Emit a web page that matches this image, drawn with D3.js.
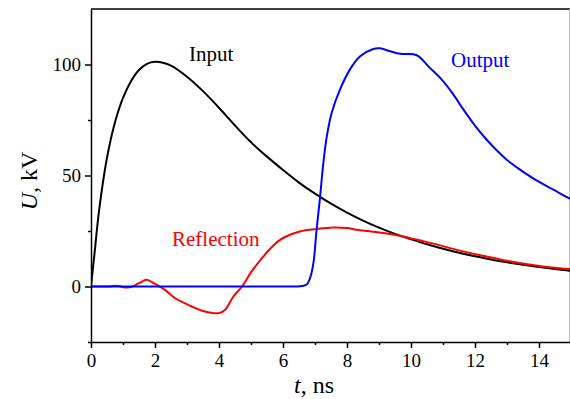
<!DOCTYPE html>
<html><head><meta charset="utf-8">
<script src="https://cdn.jsdelivr.net/npm/d3@7"></script>
<style>body{margin:0;background:#fff}svg{display:block}</style>
</head><body>
<svg id="c" width="570" height="399"></svg>
<script>
// Input pulse (black)
const inputT = [0,0.125,0.25,0.5,0.75,1.0,1.25,1.5,1.75,2.0,2.25,2.5,3.0,3.5,4.0,4.5,5.0,5.5,6.0,6.5,7.0,7.5,8.0,8.5,9.0,9.5,10.0,10.5,11.0,11.5,12.0,12.5,13.0,13.5,14.0,14.5,15.0];
const inputV = [0,17,34,58,74,85,92.5,97.5,100.3,101.2,100.8,99.5,94.5,88,80.5,72.5,65,58.5,52.5,46.8,41.8,37.3,33.3,29.7,26.5,23.7,21.3,19,17,15.2,13.6,12.2,10.9,9.8,8.8,7.9,7.1];
// Output pulse (blue)
const outputT = [0,1,2,3,4,5,6,6.4,6.6,6.75,6.85,6.95,7.05,7.16,7.26,7.37,7.52,7.78,8.09,8.41,8.82,9.03,9.34,9.66,10.07,10.23,10.59,10.96,11.3,11.64,12.0,12.36,12.7,13.0,13.35,13.72,14.1,14.45,14.75,15.0];
const outputV = [0,0,0,0,0,0,0,0,0.2,1,4,10.5,25.6,40.6,55.6,67.7,78.2,88.7,97.7,103.7,107,107.3,106,104.8,104.6,103.8,98.5,93.2,87,79.7,72.5,66.2,61,57,53.2,49.6,46.3,43.6,41.2,39.3];
// Reflection (red)
const reflT = [0,0.5,0.8,1.1,1.3,1.5,1.74,1.9,2.05,2.31,2.63,2.9,3.15,3.56,3.85,4.0,4.19,4.45,4.72,5.02,5.3,5.6,5.91,6.2,6.53,7.05,7.57,8.0,8.3,8.7,9.14,9.6,9.97,10.5,11.0,11.22,11.7,12.2,12.78,13.3,13.8,14.4,15.0];
const reflV = [0,0,0.3,-0.5,0,1.5,3,2,0.8,-1.5,-5.3,-7.3,-9,-11.3,-12,-12,-10.5,-4.5,0,6.8,12,17,21,23.2,24.8,25.9,26.6,26.3,25.6,24.9,24.1,23,21.8,20,18.2,17.3,15.6,14,12.2,10.8,9.7,8.6,7.8];

const xTicks = [0,2,4,6,8,10,12,14];
const yTicks = [0,50,100];

const svg = d3.select("#c");
const L = 91, R = 571, T = 9, B = 342;
const x = d3.scaleLinear().domain([0,15]).range([L,R]);
const y = d3.scaleLinear().domain([-25,125]).range([B,T]);
const font = "'Liberation Serif','Times New Roman',serif";

svg.append("clipPath").attr("id","pc").append("rect")
  .attr("x",L).attr("y",T).attr("width",R-L).attr("height",B-T);

// frame top / right
svg.append("line").attr("x1",L).attr("x2",570).attr("y1",T).attr("y2",T).attr("stroke","#000").attr("stroke-width",1.5);
svg.append("line").attr("x1",569.5).attr("x2",569.5).attr("y1",T).attr("y2",B).attr("stroke","#bbb").attr("stroke-width",1);

const line = d3.line().x(d=>x(d[0])).y(d=>y(d[1])).curve(d3.curveCatmullRom.alpha(0.5));
const g = svg.append("g").attr("clip-path","url(#pc)");
function draw(ts, vs, col){
  g.append("path").datum(ts.map((t,i)=>[t,vs[i]])).attr("d",line)
   .attr("fill","none").attr("stroke",col).attr("stroke-width",2).attr("stroke-linejoin","round");
}
draw(inputT, inputV, "#000");
draw(reflT, reflV, "#ff0000");
draw(outputT, outputV, "#0000ff");

// x axis
const xa = svg.append("g").attr("transform",`translate(0,${B})`)
  .call(d3.axisBottom(x).tickValues(xTicks).tickFormat(d3.format("d")).tickSize(6).tickSizeOuter(0));
svg.append("g").attr("transform",`translate(0,${B})`)
  .call(d3.axisBottom(x).tickValues([1,3,5,7,9,11,13]).tickFormat("").tickSize(3).tickSizeOuter(0))
  .select(".domain").remove();
// y axis
const ya = svg.append("g").attr("transform",`translate(${L},0)`)
  .call(d3.axisLeft(y).tickValues(yTicks).tickFormat(d3.format("d")).tickSize(6).tickSizeOuter(0));
svg.append("g").attr("transform",`translate(${L},0)`)
  .call(d3.axisLeft(y).tickValues([-25,25,75]).tickFormat("").tickSize(3).tickSizeOuter(0))
  .select(".domain").remove();

svg.selectAll(".domain").attr("stroke","#000").attr("stroke-width",1.5);
svg.selectAll(".tick line").attr("stroke","#000").attr("stroke-width",1.5);
xa.selectAll("text").attr("font-family",font).attr("font-size",19).attr("fill","#000").attr("dy","0.95em").attr("y",7);
ya.selectAll("text").attr("font-family",font).attr("font-size",19).attr("fill","#000").attr("x",-10);

// axis titles
const xt = svg.append("text").attr("x",314).attr("y",393).attr("text-anchor","middle")
  .attr("font-family",font).attr("font-size",24).attr("fill","#000");
xt.append("tspan").attr("font-style","italic").text("t");
xt.append("tspan").text(", ns");
const yt = svg.append("text").attr("transform","translate(37,181) rotate(-90)").attr("text-anchor","middle")
  .attr("font-family",font).attr("font-size",24).attr("fill","#000");
yt.append("tspan").attr("font-style","italic").text("U");
yt.append("tspan").text(", kV");

// labels
const lab = (t, px, py, col) => svg.append("text").attr("x",px).attr("y",py)
  .attr("font-family",font).attr("font-size",21).attr("fill",col).text(t);
lab("Input", 189, 61, "#000");
lab("Output", 451, 67, "#0000ff");
lab("Reflection", 172, 246, "#ff0000");
</script>
</body></html>
